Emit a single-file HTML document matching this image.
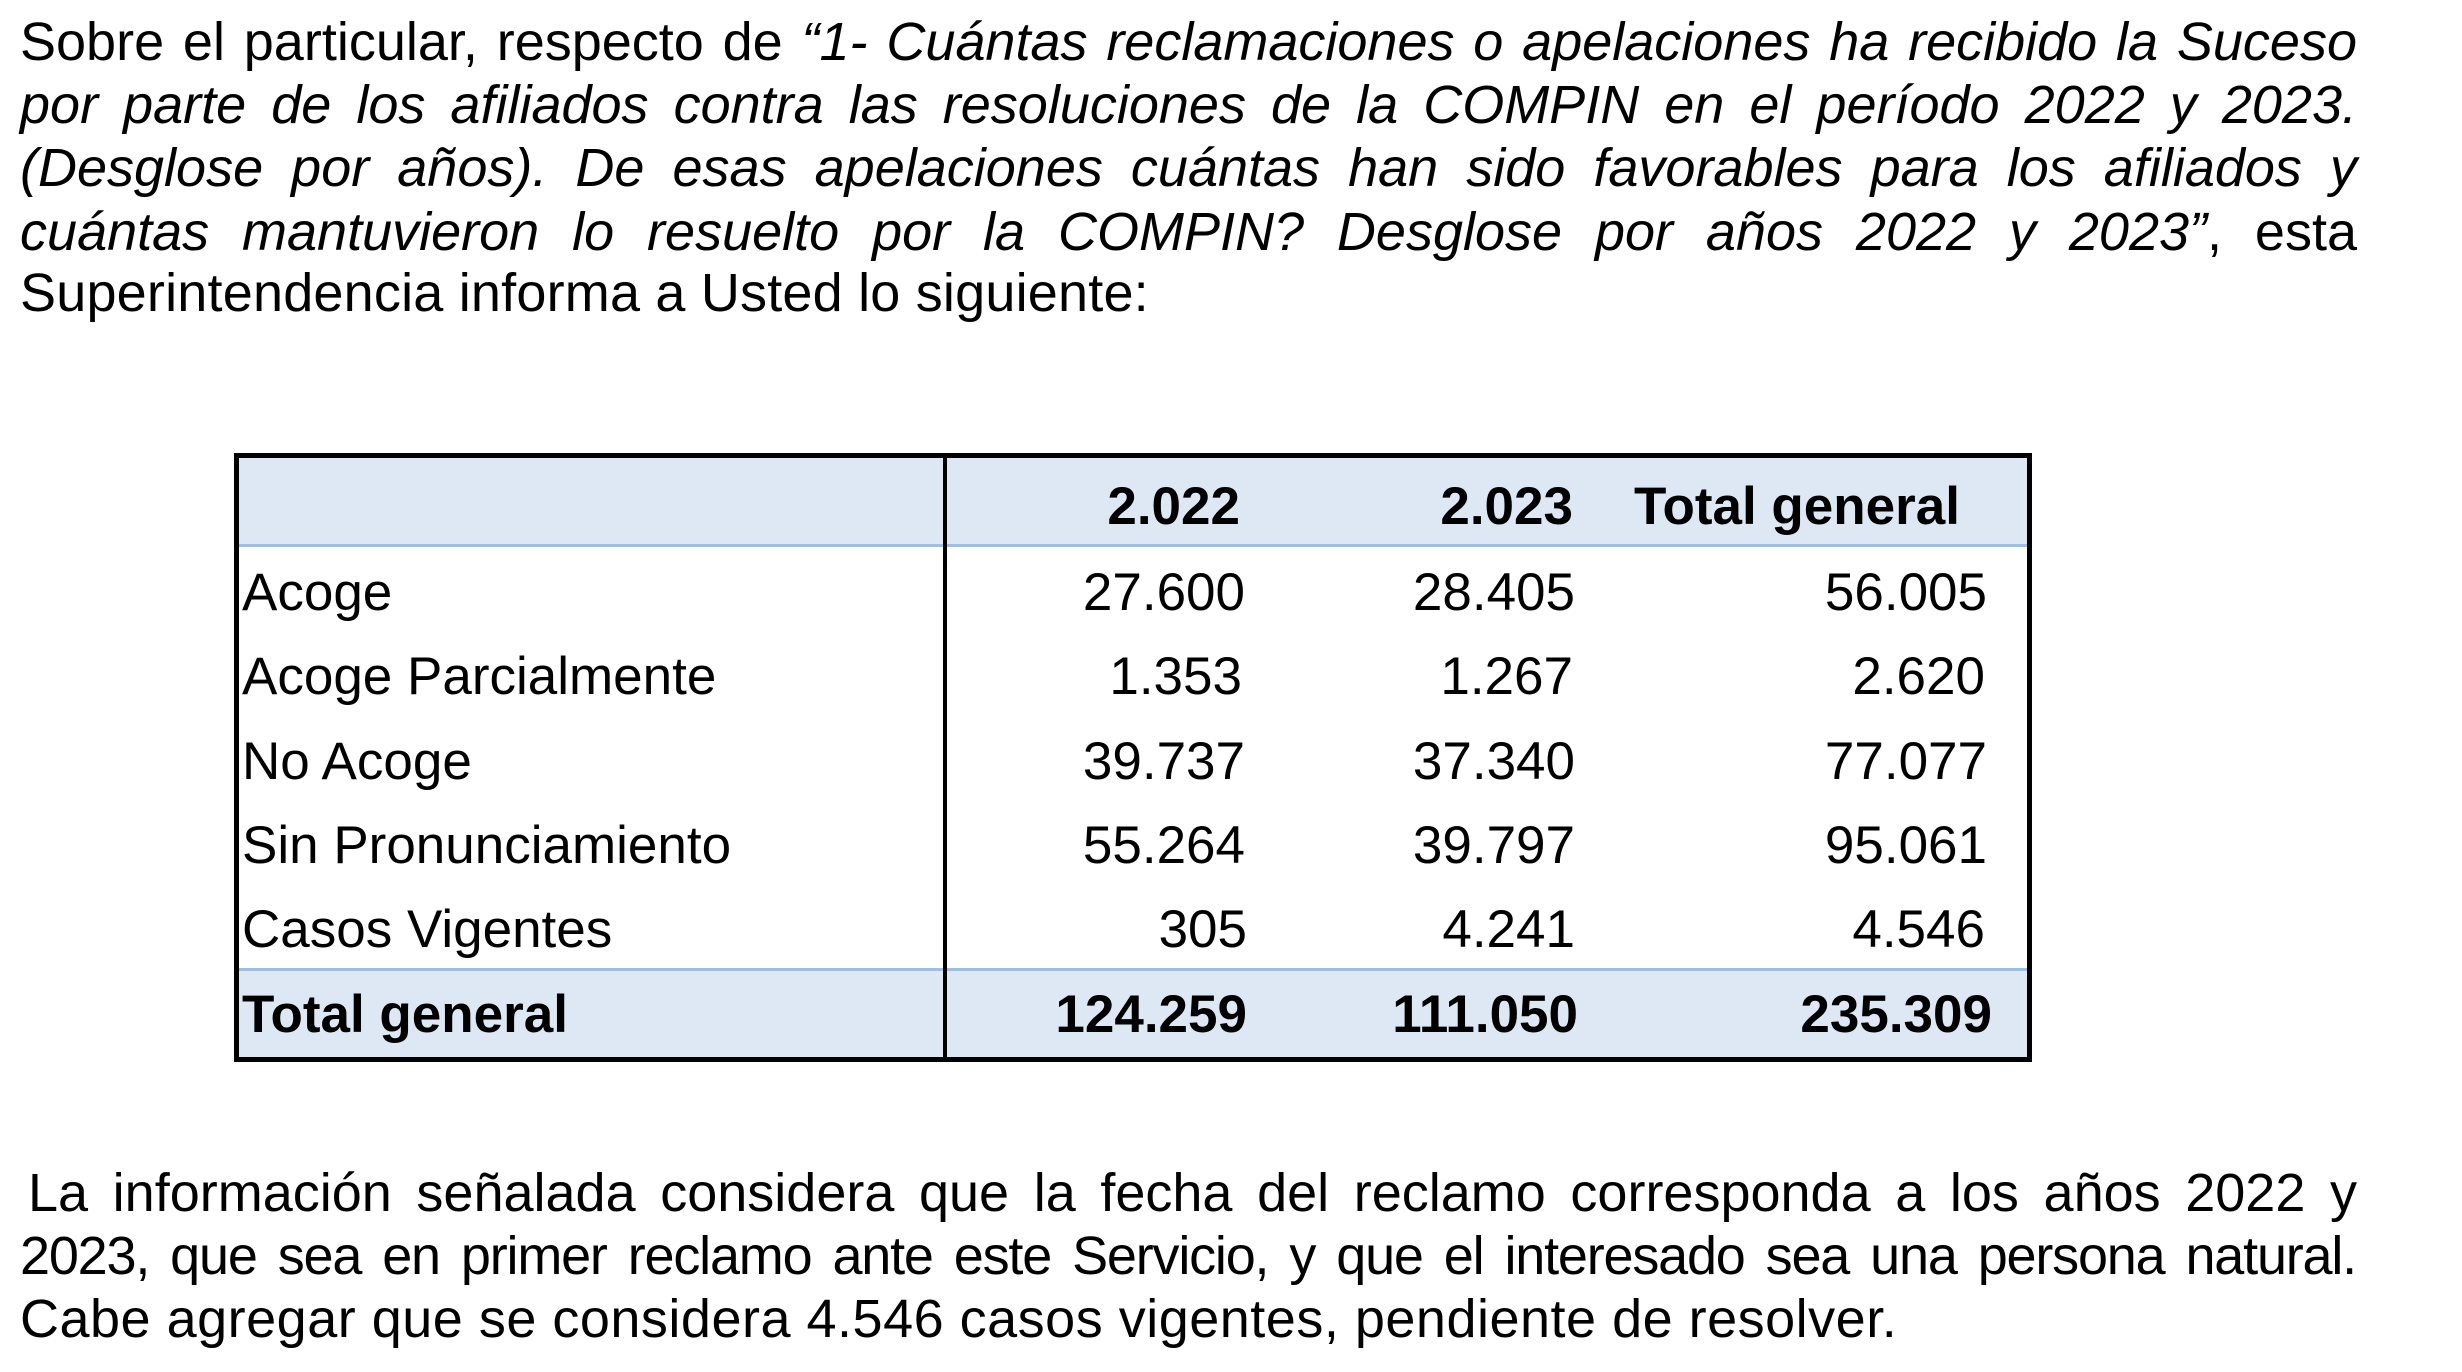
<!DOCTYPE html>
<html><head><meta charset="utf-8"><style>
body{margin:0;width:2462px;height:1372px;background:#fff;position:relative;overflow:hidden;font-family:"Liberation Sans",Arial,sans-serif;color:#000}
.l{position:absolute;font-size:54px;line-height:64px;white-space:nowrap}
.j{text-align:justify;text-align-last:justify;white-space:normal}
i{font-style:italic}
.t{position:absolute;font-size:53px;line-height:60px;white-space:nowrap}
.r{text-align:right}
.b{font-weight:bold}
.bg{position:absolute;background:#dde8f4}
.h{position:absolute;height:3px;background:#9fbfe2}
.v{position:absolute;background:#000}
</style></head><body>
<div class="l j" style="left:20px;top:10px;width:2337px"><span>Sobre el particular, respecto de </span><i>“1- Cuántas reclamaciones o apelaciones ha recibido la Suceso</i></div>
<div class="l j" style="left:20px;top:73px;width:2337px"><i>por parte de los afiliados contra las resoluciones de la COMPIN en el período 2022 y 2023.</i></div>
<div class="l j" style="left:20px;top:136px;width:2337px"><i>(Desglose por años). De esas apelaciones cuántas han sido favorables para los afiliados y</i></div>
<div class="l j" style="left:20px;top:200px;width:2337px"><i>cuántas mantuvieron lo resuelto por la COMPIN? Desglose por años 2022 y 2023”</i>, esta</div>
<div class="l" style="left:20px;top:261px;letter-spacing:0.2px">Superintendencia informa a Usted lo siguiente:</div>

<div class="bg" style="left:236px;top:456px;width:1793px;height:89px"></div>
<div class="bg" style="left:236px;top:970px;width:1793px;height:90px"></div>
<div class="h" style="left:236px;top:544px;width:1793px"></div>
<div class="h" style="left:236px;top:968px;width:1793px"></div>
<div class="v" style="left:234px;top:453px;width:1798px;height:5px"></div>
<div class="v" style="left:234px;top:1057px;width:1798px;height:5px"></div>
<div class="v" style="left:234px;top:453px;width:5px;height:609px"></div>
<div class="v" style="left:2027px;top:453px;width:5px;height:609px"></div>
<div class="v" style="left:943px;top:453px;width:4px;height:609px"></div>

<div class="t b r" style="left:1000px;width:240px;top:477px">2.022</div>
<div class="t b r" style="left:1330px;width:243px;top:477px">2.023</div>
<div class="t b" style="left:1634px;top:477px">Total general</div>

<div class="t" style="left:242px;top:563px">Acoge</div>
<div class="t r" style="left:1000px;width:245px;top:563px">27.600</div>
<div class="t r" style="left:1330px;width:245px;top:563px">28.405</div>
<div class="t r" style="left:1700px;width:287px;top:563px">56.005</div>

<div class="t" style="left:242px;top:647px">Acoge Parcialmente</div>
<div class="t r" style="left:1000px;width:242px;top:647px">1.353</div>
<div class="t r" style="left:1330px;width:243px;top:647px">1.267</div>
<div class="t r" style="left:1700px;width:285px;top:647px">2.620</div>

<div class="t" style="left:242px;top:732px">No Acoge</div>
<div class="t r" style="left:1000px;width:245px;top:732px">39.737</div>
<div class="t r" style="left:1330px;width:245px;top:732px">37.340</div>
<div class="t r" style="left:1700px;width:287px;top:732px">77.077</div>

<div class="t" style="left:242px;top:816px">Sin Pronunciamiento</div>
<div class="t r" style="left:1000px;width:245px;top:816px">55.264</div>
<div class="t r" style="left:1330px;width:245px;top:816px">39.797</div>
<div class="t r" style="left:1700px;width:287px;top:816px">95.061</div>

<div class="t" style="left:242px;top:900px">Casos Vigentes</div>
<div class="t r" style="left:1000px;width:247px;top:900px">305</div>
<div class="t r" style="left:1330px;width:245px;top:900px">4.241</div>
<div class="t r" style="left:1700px;width:285px;top:900px">4.546</div>

<div class="t b" style="left:242px;top:985px">Total general</div>
<div class="t b r" style="left:1000px;width:247px;top:985px">124.259</div>
<div class="t b r" style="left:1330px;width:248px;top:985px">111.050</div>
<div class="t b r" style="left:1700px;width:292px;top:985px">235.309</div>

<div class="l j" style="left:28px;top:1161px;width:2329px">La información señalada considera que la fecha del reclamo corresponda a los años 2022 y</div>
<div class="l j" style="left:20px;top:1224px;width:2336px;letter-spacing:-1.2px;word-spacing:-4px">2023, que sea en primer reclamo ante este Servicio, y que el interesado sea una persona natural.</div>
<div class="l" style="left:20px;top:1287px;letter-spacing:0.5px">Cabe agregar que se considera 4.546 casos vigentes, pendiente de resolver.</div>
</body></html>
